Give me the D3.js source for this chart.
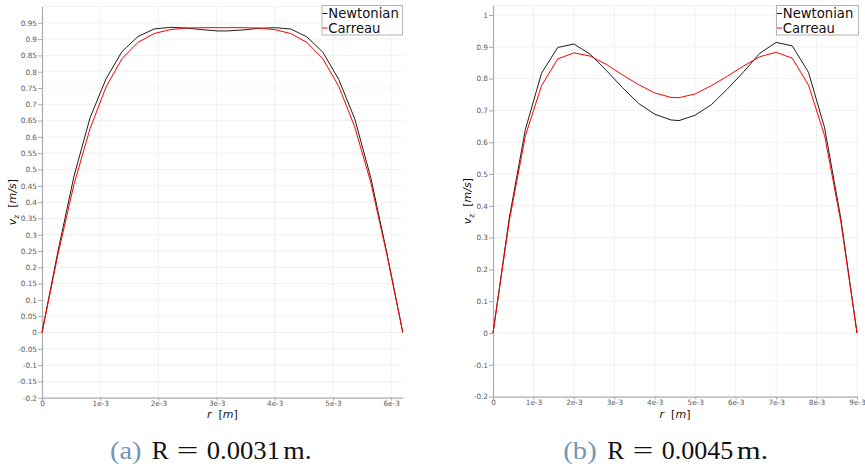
<!DOCTYPE html>
<html><head><meta charset="utf-8">
<script src="https://cdn.jsdelivr.net/npm/d3@7"></script>
<style>body{margin:0;background:#fff} svg{display:block}</style>
</head><body><svg id="c" width="865" height="471"></svg>
<script>
// ---------- data ----------
// panel (a): R = 0.0031 m
const rA = [0, 0.000275, 0.00055, 0.000825, 0.0011, 0.001375, 0.00165, 0.001925, 0.0022, 0.002475, 0.00275, 0.003025,
            0.003175, 0.00345, 0.003725, 0.004, 0.004275, 0.00455, 0.004825, 0.0051, 0.005375, 0.00565, 0.005925, 0.0062];
const newtonianA = [0, 0.25, 0.48, 0.658, 0.778, 0.862, 0.908, 0.931, 0.936, 0.934, 0.929, 0.925,
                    0.925, 0.928, 0.933, 0.935, 0.931, 0.907, 0.86, 0.776, 0.655, 0.475, 0.245, 0];
const carreauA   = [0, 0.24, 0.455, 0.625, 0.753, 0.84, 0.89, 0.917, 0.929, 0.934, 0.935, 0.935,
                    0.935, 0.935, 0.934, 0.929, 0.917, 0.89, 0.84, 0.755, 0.63, 0.46, 0.24, 0];
// panel (b): R = 0.0045 m
const rB = [0, 0.0004, 0.0008, 0.0012, 0.0016, 0.002, 0.0024, 0.0028, 0.0032, 0.0036, 0.004, 0.0044,
            0.0046, 0.005, 0.0054, 0.0058, 0.0062, 0.0066, 0.007, 0.0074, 0.0078, 0.0082, 0.0086, 0.009];
const newtonianB = [0, 0.36, 0.64, 0.817, 0.898, 0.909, 0.877, 0.826, 0.772, 0.722, 0.688, 0.670,
                    0.668, 0.685, 0.718, 0.768, 0.822, 0.880, 0.914, 0.903, 0.820, 0.645, 0.36, 0];
const carreauB   = [0, 0.35, 0.62, 0.778, 0.862, 0.881, 0.871, 0.845, 0.812, 0.781, 0.755, 0.741,
                    0.740, 0.752, 0.778, 0.808, 0.840, 0.869, 0.883, 0.864, 0.780, 0.62, 0.35, 0];

const seriesNames  = ["Newtonian", "Carreau"];
const seriesColors = ["#1e1e1e", "#ff0000"];

const xTicksA = [0, 0.001, 0.002, 0.003, 0.004, 0.005, 0.006];
const xTickLabelsA = ["0", "1e-3", "2e-3", "3e-3", "4e-3", "5e-3", "6e-3"];
const yTickLabelsA = ["-0.2","-0.15","-0.1","-0.05","0","0.05","0.1","0.15","0.2","0.25","0.3","0.35","0.4",
                      "0.45","0.5","0.55","0.6","0.65","0.7","0.75","0.8","0.85","0.9","0.95"];
const xTicksB = [0, 0.001, 0.002, 0.003, 0.004, 0.005, 0.006, 0.007, 0.008, 0.009];
const xTickLabelsB = ["0", "1e-3", "2e-3", "3e-3", "4e-3", "5e-3", "6e-3", "7e-3", "8e-3", "9e-3"];
const yTickLabelsB = ["-0.2","-0.1","0","0.1","0.2","0.3","0.4","0.5","0.6","0.7","0.8","0.9","1"];

const captionTags  = ["(a)", "(b)"];
const captionTexts = [["R", "=", "0.0031", "m."], ["R", "=", "0.0045", "m."]];

// ---------- drawing ----------
const svg = d3.select("#c");
svg.append("rect").attr("width", 865).attr("height", 471).attr("fill", "#fff");

const tickFont = "DejaVu Sans, sans-serif";

function panel(o) {
  const g = svg.append("g");
  const x = d3.scaleLinear().domain(o.xDomain).range(o.xRange);
  const y = d3.scaleLinear().domain(o.yDomain).range(o.yRange);
  const yTicks = o.yLabels.map(Number);

  // grid
  g.append("g").selectAll("line.v").data(o.xTicks.slice(1)).join("line")
    .attr("x1", d => x(d)).attr("x2", d => x(d))
    .attr("y1", o.yRange[0]).attr("y2", o.yRange[1])
    .attr("stroke", "#f1f1f1").attr("stroke-width", 1);
  g.append("g").selectAll("line.h").data(yTicks.concat([o.yDomain[1]]).slice(1)).join("line")
    .attr("x1", o.xRange[0]).attr("x2", o.xRange[1])
    .attr("y1", d => y(d)).attr("y2", d => y(d))
    .attr("stroke", "#f1f1f1").attr("stroke-width", 1);

  // axes
  const xa = g.append("g").attr("transform", `translate(0,${o.yRange[0]})`)
    .call(d3.axisBottom(x).tickValues(o.xTicks).tickSize(3).tickSizeOuter(0).tickPadding(0)
      .tickFormat((d, i) => o.xLabels[i]));
  const ya = g.append("g").attr("transform", `translate(${o.xRange[0]},0)`)
    .call(d3.axisLeft(y).tickValues(yTicks).tickSize(4).tickSizeOuter(0).tickPadding(1)
      .tickFormat((d, i) => o.yLabels[i]));
  [xa, ya].forEach(a => {
    a.select(".domain").attr("stroke", "#ababab").attr("stroke-width", 1.2);
    a.selectAll(".tick line").attr("stroke", "#ababab");
    a.selectAll("text").attr("fill", "#5a5a5a").attr("font-family", tickFont).attr("font-size", 7.3);
  });

  // lines
  const series = [o.newt, o.carr];
  series.forEach((vals, si) => {
    const line = d3.line().x((d, i) => x(o.r[i])).y(d => y(d));
    g.append("path").datum(vals).attr("d", line).attr("fill", "none")
      .attr("stroke", seriesColors[si]).attr("stroke-width", 1);
  });

  // axis titles
  const xt = g.append("text").attr("x", (o.xRange[0] + o.xRange[1]) / 2).attr("y", 418)
    .attr("text-anchor", "middle").attr("font-family", tickFont).attr("font-size", 11).attr("fill", "#111")
    .attr("xml:space", "preserve");
  xt.append("tspan").attr("font-style", "italic").text("r");
  xt.append("tspan").text("  [");
  xt.append("tspan").attr("font-style", "italic").text("m");
  xt.append("tspan").text("]");

  const ym = (o.yRange[0] + o.yRange[1]) / 2;
  const yt = g.append("text").attr("transform", `translate(${o.yTitleX},${ym}) rotate(-90)`)
    .attr("text-anchor", "middle").attr("font-family", tickFont).attr("font-size", 11).attr("fill", "#111")
    .attr("xml:space", "preserve");
  yt.append("tspan").attr("font-style", "italic").text("v");
  yt.append("tspan").attr("font-size", 7.5).attr("dy", 2.5).text("z");
  yt.append("tspan").attr("dy", -2.5).text("  [");
  yt.append("tspan").attr("font-style", "italic").text("m/s");
  yt.append("tspan").text("]");

  // legend
  const lg = g.append("g").attr("transform", `translate(${o.legX},5)`);
  lg.append("rect").attr("x", 0.5).attr("y", 0.5).attr("width", o.legW).attr("height", 29.5)
    .attr("fill", "#fff").attr("stroke", "#b4b4b4").attr("stroke-width", 1);
  seriesNames.forEach((nm, i) => {
    const yy = 8.5 + i * 14.5;
    lg.append("line").attr("x1", 1).attr("x2", 6).attr("y1", yy).attr("y2", yy)
      .attr("stroke", seriesColors[i]).attr("stroke-width", 1);
    lg.append("text").attr("x", 6.8).attr("y", yy + 4.6).attr("font-family", tickFont)
      .attr("font-size", 13.2).attr("fill", "#111").text(nm);
  });

  // caption
  const cf = "'Liberation Serif', 'Times New Roman', serif";
  const c = o.cap;
  svg.append("text").attr("x", c.tagX).attr("y", 458.5).attr("font-family", cf).attr("font-size", 25)
    .attr("fill", "#7395b6").attr("textLength", c.tagW).attr("lengthAdjust", "spacingAndGlyphs").text(o.tag);
  o.capTexts.forEach((t, i) => {
    svg.append("text").attr("x", c.xs[i]).attr("y", 458.5).attr("font-family", cf).attr("font-size", 25)
      .attr("fill", "#111").attr("textLength", c.ws[i]).attr("lengthAdjust", "spacingAndGlyphs").text(t);
  });
}

panel({
  r: rA, newt: newtonianA, carr: carreauA,
  xDomain: [0, 0.0062], xRange: [42, 402.8],
  yDomain: [-0.2, 1.0], yRange: [397.7, 6.5],
  xTicks: xTicksA, xLabels: xTickLabelsA, yLabels: yTickLabelsA,
  yTitleX: 16, legX: 321.5, legW: 80.5,
  tag: captionTags[0], capTexts: captionTexts[0],
  cap: { tagX: 110, tagW: 31.5, xs: [151.7, 176.7, 206.7, 283.3], ws: [17, 21.6, 73.3, 28.4] }
});
panel({
  r: rB, newt: newtonianB, carr: carreauB,
  xDomain: [0, 0.009], xRange: [493, 857],
  yDomain: [-0.2, 1.03], yRange: [396.6, 5.5],
  xTicks: xTicksB, xLabels: xTickLabelsB, yLabels: yTickLabelsB,
  yTitleX: 471, legX: 776, legW: 82,
  tag: captionTags[1], capTexts: captionTexts[1],
  cap: { tagX: 563.3, tagW: 33.4, xs: [607.3, 632.7, 661.7, 736.7], ws: [17, 20.6, 71.6, 31.6] }
});
</script></body></html>
